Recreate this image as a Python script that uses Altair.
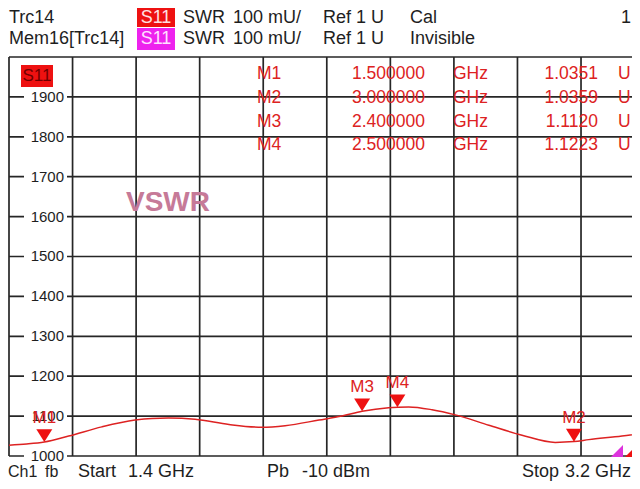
import altair as alt
import pandas as pd

FONT = "Liberation Sans"
W, H = 624, 473

# ---- trace data (frequency in GHz, SWR in mU) ----
freq_ghz = [1.40, 1.45, 1.50, 1.569, 1.663, 1.757, 1.805, 1.852, 1.927, 2.023,
            2.117, 2.182, 2.278, 2.343, 2.400, 2.475, 2.502, 2.532, 2.598, 2.664,
            2.759, 2.853, 2.947, 3.000, 3.042, 3.136, 3.200]
swr_mu = [1027, 1030, 1035, 1050, 1073, 1090, 1094, 1095, 1092, 1079,
          1072, 1076, 1090, 1100, 1112, 1121, 1122.3, 1123, 1116, 1103,
          1077, 1052, 1034, 1036, 1041, 1050, 1058]

# ---- markers ----
marker_names = ["M1", "M2", "M3", "M4"]
marker_freq = [1.5, 3.0, 2.4, 2.5]
marker_swr = [1035.1, 1035.9, 1112.0, 1122.3]

# ---- grid / ticks ----
y_grid = [1000, 1100, 1200, 1300, 1400, 1500, 1600, 1700, 1800, 1900, 2000]
y_tick_labels = [1000, 1100, 1200, 1300, 1400, 1500, 1600, 1700, 1800, 1900]
x_grid = [1.40, 1.58, 1.76, 1.94, 2.12, 2.30, 2.48, 2.66, 2.84, 3.02, 3.20]

# ---- texts ----
header_row1 = ["Trc14", "S11", "SWR", "100 mU/", "Ref 1 U", "Cal", "1"]
header_row2 = ["Mem16[Trc14]", "S11", "SWR", "100 mU/", "Ref 1 U", "Invisible"]
footer = ["Ch1", "fb", "Start", "1.4 GHz", "Pb", "-10 dBm", "Stop", "3.2 GHz"]
watermark = "VSWR"

X_DOMAIN = [1.39717, 3.16438]
Y_DOMAIN = [937.3, 2122.8]
xs = alt.Scale(domain=X_DOMAIN, nice=False, zero=False)
ys = alt.Scale(domain=Y_DOMAIN, nice=False, zero=False)

GRID = "#262626"
RED = "#dd2222"
TXT = "#1e1e1e"

one = pd.DataFrame({"a": [0]})


def txt(s, x, y, size=18, color=TXT, align="left", weight="normal"):
    return alt.Chart(one).mark_text(
        font=FONT, fontSize=size, color=color, align=align,
        baseline="middle", fontWeight=weight
    ).encode(x=alt.value(x), y=alt.value(y), text=alt.value(s))


def box(x1, x2, y1, y2, color):
    return alt.Chart(one).mark_rect(color=color).encode(
        x=alt.value(x1), x2=alt.value(x2), y=alt.value(y1), y2=alt.value(y2))


hgrid_df = pd.DataFrame({"v": y_grid, "x0": 1.4, "x1": 3.2})
vgrid_df = pd.DataFrame({"f": x_grid, "y0": 1000, "y1": 2000})
ticks_df = pd.DataFrame({"v": y_tick_labels})
ticks_df["lo"] = ticks_df["v"] - 20
ticks_df["hi"] = ticks_df["v"] + 20
ticks_df["lab"] = ticks_df["v"].astype(str)
trace_df = pd.DataFrame({"f": freq_ghz, "s": swr_mu})
mk_df = pd.DataFrame({"name": marker_names, "f": marker_freq, "s": marker_swr})

hgrid = alt.Chart(hgrid_df).mark_rule(color=GRID, strokeWidth=1.7).encode(
    x=alt.X("x0:Q", scale=xs, axis=None), x2="x1:Q",
    y=alt.Y("v:Q", scale=ys, axis=None))
vgrid = alt.Chart(vgrid_df).mark_rule(color=GRID, strokeWidth=1.7).encode(
    x=alt.X("f:Q", scale=xs, axis=None),
    y=alt.Y("y0:Q", scale=ys, axis=None), y2="y1:Q")
tick_bg = alt.Chart(ticks_df).mark_rect(color="white").encode(
    x=alt.value(16), x2=alt.value(59),
    y=alt.Y("lo:Q", scale=ys, axis=None), y2="hi:Q")
tick_txt = alt.Chart(ticks_df).mark_text(
    font=FONT, fontSize=15, color=TXT, align="right", baseline="middle").encode(
    x=alt.value(56), y=alt.Y("v:Q", scale=ys, axis=None), text="lab:N")

trace = alt.Chart(trace_df).mark_line(
    color=RED, strokeWidth=1.5, interpolate="monotone").encode(
    x=alt.X("f:Q", scale=xs, axis=None), y=alt.Y("s:Q", scale=ys, axis=None))

tri = alt.Chart(mk_df).mark_point(
    shape="M-1,-1.6L1,-1.6L0,0Z", size=256, filled=True, color="#ee1111",
    opacity=1).encode(
    x=alt.X("f:Q", scale=xs, axis=None), y=alt.Y("s:Q", scale=ys, axis=None))
mk_lab = alt.Chart(mk_df).mark_text(
    font=FONT, fontSize=17, color=RED, baseline="middle", dy=-24).encode(
    x=alt.X("f:Q", scale=xs, axis=None), y=alt.Y("s:Q", scale=ys, axis=None),
    text="name:N")

layers = [hgrid, vgrid, tick_bg, tick_txt]

# watermark
layers.append(txt(watermark, 160, 195, size=28, color="#c67a98", align="center",
                  weight="bold"))

# marker table
row_y = [66, 90, 113.5, 137]
for i, nm in enumerate(marker_names):
    y = row_y[i]
    layers.append(txt(nm, 249, y, size=17.5, color=RED))
    layers.append(txt(f"{marker_freq[i]:.6f}", 417, y, size=17.5, color=RED, align="right"))
    layers.append(txt("GHz", 445, y, size=17.5, color=RED))
    layers.append(txt(f"{marker_swr[i] / 1000:.4f}", 590, y, size=17.5, color=RED, align="right"))
    layers.append(txt("U", 610, y, size=17.5, color=RED))

# S11 box in plot
layers.append(box(13, 45, 57, 79, "#ee1111"))
layers.append(txt("S11", 29, 68, size=17, color="#700000", align="center"))

layers += [trace, tri, mk_lab]

# header
layers.append(box(129, 167, 0, 19, "#ee1111"))
layers.append(box(129, 167, 20, 42, "#ee22ee"))
r1x = [1, 148, 175, 225, 315, 402, 623]
for s, x in zip(header_row1, r1x):
    if s == "S11":
        layers.append(txt(s, x, 10, color="#ffe0e0", align="center"))
    elif s == "1":
        layers.append(txt(s, x, 10, align="right"))
    else:
        layers.append(txt(s, x, 10))
r2x = [1, 148, 175, 225, 315, 402]
for s, x in zip(header_row2, r2x):
    if s == "S11":
        layers.append(txt(s, x, 31, color="#ffe0ff", align="center"))
    else:
        layers.append(txt(s, x, 31))

# footer
fx = [0, 37, 70, 120, 259, 294, 514, 623]
for s, x in zip(footer, fx):
    if s == "3.2 GHz":
        layers.append(txt(s, x, 464, align="right"))
    elif s in ("Ch1", "fb"):
        layers.append(txt(s, x, 464, size=16))
    else:
        layers.append(txt(s, x, 464))

# off-scale indicators at bottom right
layers.append(alt.Chart(one).mark_point(
    shape="M-1,1L1,-1L1,1Z", size=144, filled=True, color="#dd33dd", opacity=1
).encode(x=alt.value(609), y=alt.value(443)))
layers.append(alt.Chart(one).mark_point(
    shape="M-1,1L1,-1L1,1Z", size=196, filled=True, color="#ee1111", opacity=1
).encode(x=alt.value(624), y=alt.value(442)))

chart = alt.layer(*layers).properties(
    width=W, height=H, padding=0, autosize=alt.AutoSizeParams(type="none"),
    background="white"
).configure_view(stroke=None)

chart.save("out.html", embed_options={"renderer": "svg", "actions": False})
